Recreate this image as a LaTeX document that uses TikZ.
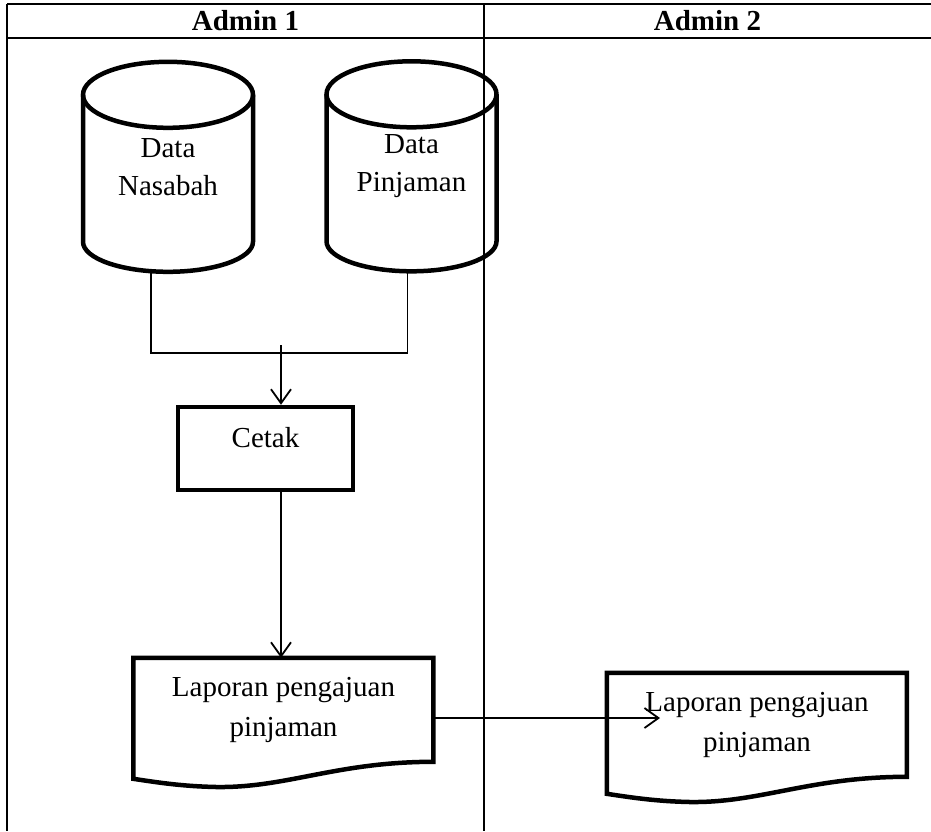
\documentclass[tikz,border=0pt]{standalone}
\usepackage{fontspec}
\setmainfont{Liberation Serif}
\usetikzlibrary{arrows.meta}

\begin{document}
\begin{tikzpicture}[x=1pt, y=-1pt,
    frame/.style={line width=1.6pt},
    line/.style={line width=1.8pt},
    flow/.style={line width=1.8pt, -{Straight Barb[length=14pt, width=20pt, line width=1.8pt]}},
    dbtext/.style={minimum width=170pt, minimum height=210pt, align=center, font=\fontsize{29}{38}\selectfont},
    cylline/.style={line width=4.5pt},
    procbox/.style={draw, line width=4.5pt, minimum width=175pt, minimum height=83pt, text height=20pt, text depth=22pt, font=\fontsize{29}{38}\selectfont},
    doctext/.style={minimum width=300pt, minimum height=104pt, align=center, font=\fontsize{29}{40}\selectfont},
    docline/.style={line width=4.5pt, line join=miter}]
    \useasboundingbox (0,0) rectangle (931,831);

    % swimlane table
    \draw [frame] (7,4) -- (931,4);
    \draw [frame] (7,38) -- (931,38);
    \draw [frame] (7,4) -- (7,831);
    \draw [frame] (484,4) -- (484,831);
    \node (hd1) at (245.5,21) [font=\fontsize{29}{34}\selectfont\bfseries] {Admin 1};
    \node (hd2) at (707.5,21) [font=\fontsize{29}{34}\selectfont\bfseries] {Admin 2};

    \node (nasabah) at (168,167) [dbtext] {Data\\Nasabah};
    \node (pinjaman) at (411.5,166.5) [dbtext] {Data\\Pinjaman};
    \foreach \n in {nasabah, pinjaman} {
        \draw [cylline, shift={(\n.north)}] (0,33) ellipse [x radius=85pt, y radius=33pt];
        \draw [cylline, shift={(\n.north)}] (-85,33) -- (-85,180)
            arc [start angle=180, end angle=360, x radius=85pt, y radius=30pt] -- (85,33);
    }

    \node (cetak) at (265.5,448.5) [procbox] {Cetak};

    \node (lap1) at (283.5,710) [doctext] {Laporan pengajuan\\pinjaman};
    \node (lap2) at (757,725) [doctext] {Laporan pengajuan\\pinjaman};
    \foreach \n in {lap1, lap2} {
        \draw [docline, shift={(\n.north west)}] (0,0) -- (300,0) -- (300,104)
            .. controls (200,104) and (150,132) .. (76,129)
            .. controls (45,128) and (20,124) .. (0,121) -- cycle;
    }

    \coordinate (join) at (281,353);
    \coordinate (tip) at (660,718);
    \draw [line] ([xshift=-17pt]nasabah.south) |- (join);
    \draw [line] ([xshift=-4pt]pinjaman.south) |- (join);
    \draw [flow] ([yshift=8pt]join) -- (cetak.north -| join);
    \draw [flow] (cetak.south -| join) -- (lap1.north -| join);
    \draw [flow] (lap1.east |- tip) -- (tip);
\end{tikzpicture}
\end{document}
